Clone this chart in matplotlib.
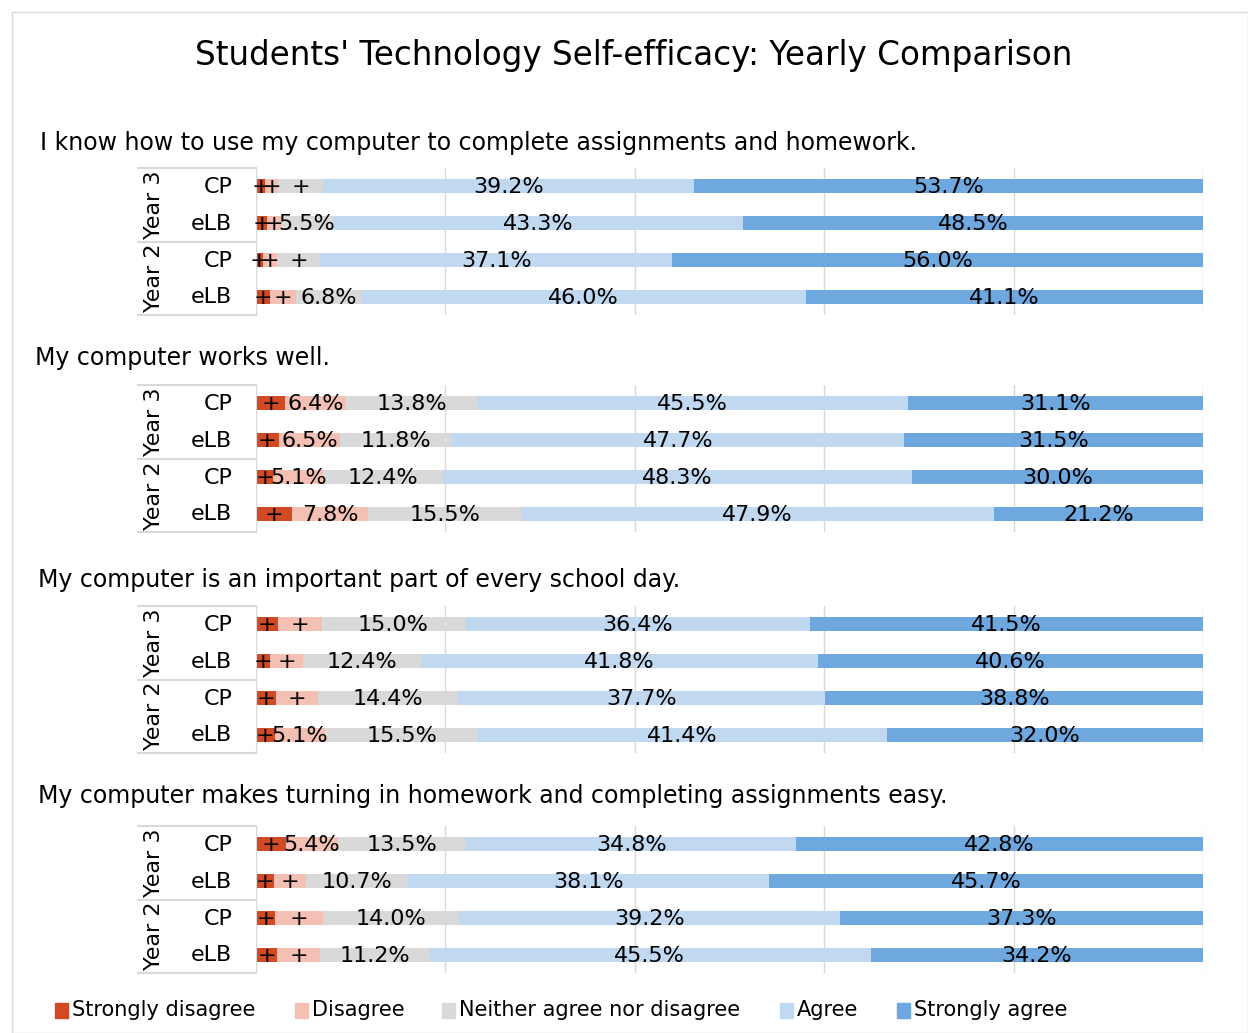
import matplotlib.pyplot as plt
from matplotlib.patches import Rectangle
import numpy as np

# datos
questions = [
    "I know how to use my computer to complete assignments and homework.",
    "My computer works well.",
    "My computer is an important part of every school day.",
    "My computer makes turning in homework and completing assignments easy.",
]
rows = ["CP", "eLB", "CP", "eLB"]
years = ["Year 3", "Year 2"]
levels = ["Strongly disagree", "Disagree", "Neither agree nor disagree", "Agree", "Strongly agree"]
colors = ["#D24A24", "#F3C0B3", "#D9D9D9", "#C0D9F1", "#6FA8DF"]

# una lista por pregunta: filas Y3 CP, Y3 eLB, Y2 CP, Y2 eLB ; columnas SD, D, N, A, SA
q1 = [[1.0, 1.3, 4.8, 39.2, 53.7],
      [1.2, 1.4, 5.5, 43.3, 48.5],
      [0.7, 1.5, 4.6, 37.1, 56.0],
      [1.5, 2.6, 6.8, 46.0, 41.1]]
q2 = [[3.1, 6.4, 13.8, 45.5, 31.1],
      [2.4, 6.5, 11.8, 47.7, 31.5],
      [1.8, 5.1, 12.4, 48.3, 30.0],
      [3.6, 7.8, 15.5, 47.9, 21.2]]
q3 = [[2.3, 4.7, 15.0, 36.4, 41.5],
      [1.5, 3.5, 12.4, 41.8, 40.6],
      [2.1, 4.3, 14.4, 37.7, 38.8],
      [1.9, 5.1, 15.5, 41.4, 32.0]]
q4 = [[3.2, 5.4, 13.5, 34.8, 42.8],
      [1.9, 3.4, 10.7, 38.1, 45.7],
      [2.0, 4.9, 14.0, 39.2, 37.3],
      [2.2, 4.4, 11.2, 45.5, 34.2]]
data = [q1, q2, q3, q4]

W, H = 1248, 1033
fig = plt.figure(figsize=(W / 100, H / 100), dpi=100)
plt.rcParams['font.family'] = ['DejaVu Sans']

# borde del grafico
fig.patches.append(Rectangle((12 / W, 0), (W - 12) / W, 1 - 12 / H, transform=fig.transFigure,
                             fill=False, edgecolor="#D9D9D9", lw=1))

fig.text(634 / W, 1 - 55 / H, "Students' Technology Self-efficacy: Yearly Comparison",
         ha="center", va="center", fontsize=23.5)

x0, x1 = 256, 1203
tops = [168, 385, 606, 826]
qtitle_y = [143, 358, 580, 796]
qtitle_x = [40, 35, 38, 38]
panel_h = 147

for k in range(4):
    ax = fig.add_axes([x0 / W, 1 - (tops[k] + panel_h) / H, (x1 - x0) / W, panel_h / H])
    vals = np.array(data[k], dtype=float)
    vals = vals / vals.sum(axis=1, keepdims=True) * 100  # barras al 100%
    raw = np.array(data[k])
    y = np.arange(4)
    left = np.zeros(4)
    for j in range(5):
        ax.barh(y, vals[:, j], left=left, height=0.38, color=colors[j], zorder=2)
        for i in range(4):
            txt = "%.1f%%" % raw[i, j] if raw[i, j] >= 5 else "+"
            ax.text(left[i] + vals[i, j] / 2, y[i] + 0.03, txt, ha="center", va="center",
                    fontsize=16, zorder=3)
        left += vals[:, j]
    ax.set_xlim(0, 100)
    ax.set_ylim(3.5, -0.5)
    ax.set_xticks([0, 20, 40, 60, 80, 100])
    ax.grid(axis="x", color="#D9D9D9", lw=1, zorder=0)
    ax.tick_params(length=0, labelbottom=False, labelleft=False)
    for s in ["top", "right", "bottom"]:
        ax.spines[s].set_visible(False)
    ax.spines["left"].set_color("#D9D9D9")

    trans = ax.get_yaxis_transform()
    for i in range(4):
        ax.text(-0.025, y[i] + 0.02, rows[i], transform=trans, ha="right", va="center", fontsize=16)
    for g in range(2):
        ax.text(-0.108, 0.5 + 2 * g, years[g], transform=trans, ha="center", va="center",
                rotation=90, fontsize=16)
    for yy in [-0.5, 1.5, 3.5]:
        ax.plot([-0.125, 0], [yy, yy], transform=trans, color="#D9D9D9", lw=1.5, clip_on=False)

    fig.text(qtitle_x[k] / W, 1 - qtitle_y[k] / H, questions[k], ha="left", va="center", fontsize=17)

# leyenda
leg_x = [55, 295, 442, 780, 897]
for j in range(5):
    fig.patches.append(Rectangle((leg_x[j] / W, 1 - 1018 / H), 13 / W, 15 / H,
                                 transform=fig.transFigure, color=colors[j]))
    fig.text((leg_x[j] + 17) / W, 1 - 1010 / H, levels[j], ha="left", va="center", fontsize=15)

fig.savefig("out.png", dpi=100)
